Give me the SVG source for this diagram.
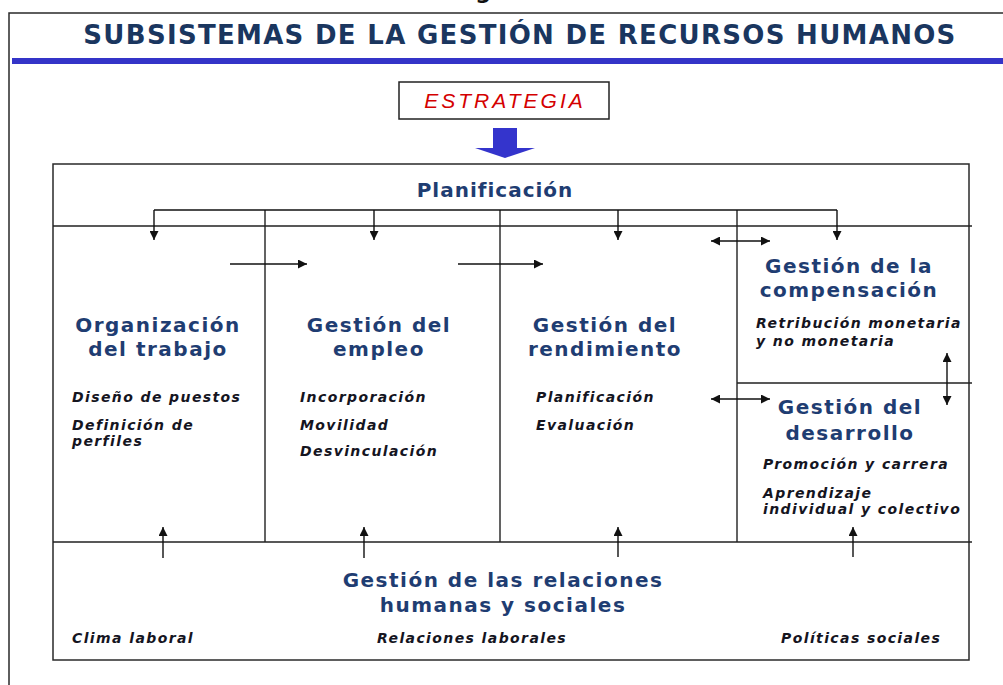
<svg xmlns="http://www.w3.org/2000/svg" width="1003" height="685" viewBox="0 0 1003 685">
<style>
.frame{fill:none;stroke:#2a2a2a;stroke-width:1.5}
.ln{fill:none;stroke:#222;stroke-width:1.4}
.con{fill:none;stroke:#111;stroke-width:1.4}
.h{font-family:"DejaVu Sans",Verdana,sans-serif;font-weight:bold;font-size:20px;fill:#1f3d72;letter-spacing:1.5px;text-anchor:middle}
.it{font-family:"DejaVu Sans",Verdana,sans-serif;font-weight:bold;font-style:italic;font-size:14px;fill:#15151f;letter-spacing:1.4px}
</style>
<defs>
<marker id="ah" viewBox="0 0 10 10" refX="10" refY="5" markerWidth="10" markerHeight="9" markerUnits="userSpaceOnUse" orient="auto-start-reverse">
<path d="M0,0 L10,5 L0,10 z" fill="#111"/>
</marker>
</defs>
<rect width="1003" height="685" fill="#fff"/>
<text x="483" y="-1" font-family="DejaVu Sans,sans-serif" font-weight="bold" font-size="22" fill="#111" text-anchor="middle">g</text>
<g id="page">
<path class="frame" d="M1003,13 H9 V685"/>
<text x="520" y="44" font-family="DejaVu Sans,Verdana,sans-serif" font-weight="bold" font-size="26" fill="#1a365f" letter-spacing="1.3" text-anchor="middle">SUBSISTEMAS DE LA GESTIÓN DE RECURSOS HUMANOS</text>
<rect x="12" y="58" width="991" height="6" fill="#3434c8"/>
</g>
<g id="estrategia">
<rect x="399" y="82" width="210" height="37" fill="#fff" stroke="#222" stroke-width="1.5"/>
<text x="505" y="108" font-family="Liberation Sans,Arial,sans-serif" font-style="italic" font-size="21" fill="#d40000" letter-spacing="3" text-anchor="middle">ESTRATEGIA</text>
<path d="M493,128 H517 V148 H535 L505,158 L475,148 H493 Z" fill="#3434cc"/>
</g>
<g id="main-box">
<rect class="frame" x="53" y="164" width="916" height="496"/>
</g>
<g id="dividers">
<path class="ln" d="M53,226 H972 M53,542 H972 M737,383 H972 M265,210 V542 M500,210 V542 M737,210 V542"/>
</g>
<g id="planificacion">
<text class="h" x="495" y="197" style="letter-spacing:1px">Planificación</text>
</g>
<g id="organizacion">
<text class="h" x="158" y="332">Organización</text>
<text class="h" x="158" y="356">del trabajo</text>
<text class="it" x="72" y="402">Diseño de puestos</text>
<text class="it" x="72" y="430">Definición de</text>
<text class="it" x="72" y="446">perfiles</text>
</g>
<g id="empleo">
<text class="h" x="379" y="332">Gestión del</text>
<text class="h" x="379" y="356">empleo</text>
<text class="it" x="300" y="402">Incorporación</text>
<text class="it" x="300" y="430">Movilidad</text>
<text class="it" x="300" y="456">Desvinculación</text>
</g>
<g id="rendimiento">
<text class="h" x="605" y="332">Gestión del</text>
<text class="h" x="605" y="356">rendimiento</text>
<text class="it" x="536" y="402">Planificación</text>
<text class="it" x="536" y="430">Evaluación</text>
</g>
<g id="compensacion">
<text class="h" x="849" y="273">Gestión de la</text>
<text class="h" x="849" y="297">compensación</text>
<text class="it" x="756" y="328">Retribución monetaria</text>
<text class="it" x="756" y="346">y no monetaria</text>
</g>
<g id="desarrollo">
<text class="h" x="850" y="414">Gestión del</text>
<text class="h" x="850" y="440">desarrollo</text>
<text class="it" x="763" y="469">Promoción y carrera</text>
<text class="it" x="763" y="498">Aprendizaje</text>
<text class="it" x="763" y="514">individual y colectivo</text>
</g>
<g id="relaciones">
<text class="h" x="503" y="587">Gestión de las relaciones</text>
<text class="h" x="503" y="612">humanas y sociales</text>
<text class="it" x="72" y="643">Clima laboral</text>
<text class="it" x="377" y="643">Relaciones laborales</text>
<text class="it" x="781" y="643">Políticas sociales</text>
</g>
<g id="connectors">
<path class="con" d="M154,210 H837"/>
<path class="con" d="M154,210 V240" marker-end="url(#ah)"/>
<path class="con" d="M374,210 V240" marker-end="url(#ah)"/>
<path class="con" d="M618,210 V240" marker-end="url(#ah)"/>
<path class="con" d="M837,210 V240" marker-end="url(#ah)"/>
<path class="con" d="M230,264 H307" marker-end="url(#ah)"/>
<path class="con" d="M458,264 H543" marker-end="url(#ah)"/>
<path class="con" d="M711,241 H770" marker-start="url(#ah)" marker-end="url(#ah)"/>
<path class="con" d="M711,399 H770" marker-start="url(#ah)" marker-end="url(#ah)"/>
<path class="con" d="M947,353 V405" marker-start="url(#ah)" marker-end="url(#ah)"/>
<path class="con" d="M163,558 V527" marker-end="url(#ah)"/>
<path class="con" d="M364,558 V527" marker-end="url(#ah)"/>
<path class="con" d="M618,557 V527" marker-end="url(#ah)"/>
<path class="con" d="M853,557 V527" marker-end="url(#ah)"/>
</g>
</svg>
